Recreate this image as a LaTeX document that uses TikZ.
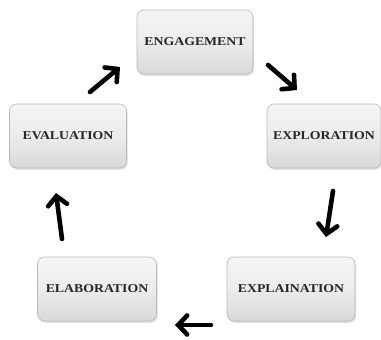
\documentclass[tikz,border=0pt]{standalone}
\usepackage{fontspec}
\setmainfont{Liberation Serif}
\usepackage{graphicx}
\usetikzlibrary{arrows.meta,shadows}
\begin{document}
\begin{tikzpicture}[x=1pt,y=-1pt,
  stage/.style={rectangle, rounded corners=7pt, draw=gray!55, line width=0.6pt,
    top color=gray!8, bottom color=gray!30, middle color=gray!15,
    minimum width=#1, minimum height=64pt, inner sep=0pt,
    drop shadow={opacity=0.25, shadow xshift=1.2pt, shadow yshift=-1.8pt},
    font=\fontsize{12}{13}\selectfont\bfseries, text=black!85},
  stage/.default=116pt,
  flow/.style={line width=4.6pt, line cap=round, black,
    -{Straight Barb[length=9pt,width=19pt,line cap=round]}}]
\useasboundingbox (0,0) rectangle (381,340);
\node[stage=116pt] (eng) at (195,42) {\scalebox{1.15}[1]{ENGAGEMENT}};
\node[stage=114pt] (exo) at (324,136) {\scalebox{1.15}[1]{EXPLORATION}};
\node[stage=128pt] (exa) at (291,289) {\scalebox{1.15}[1]{EXPLAINATION}};
\node[stage=119pt] (ela) at (97,289) {\scalebox{1.15}[1]{ELABORATION}};
\node[stage=117pt] (eva) at (68,136) {\scalebox{1.15}[1]{EVALUATION}};
\coordinate (a1s) at (90,92);  \coordinate (a1e) at (120,67);
\coordinate (a2s) at (268,65); \coordinate (a2e) at (297,90);
\coordinate (a3s) at (333,191);\coordinate (a3e) at (326,237);
\coordinate (a4s) at (211,325);\coordinate (a4e) at (175,325);
\coordinate (a5s) at (62,239); \coordinate (a5e) at (56,193);
\draw[flow] (a1s) -- (a1e);
\draw[flow] (a2s) -- (a2e);
\draw[flow] (a3s) -- (a3e);
\draw[flow] (a4s) -- (a4e);
\draw[flow] (a5s) -- (a5e);
\end{tikzpicture}
\end{document}
